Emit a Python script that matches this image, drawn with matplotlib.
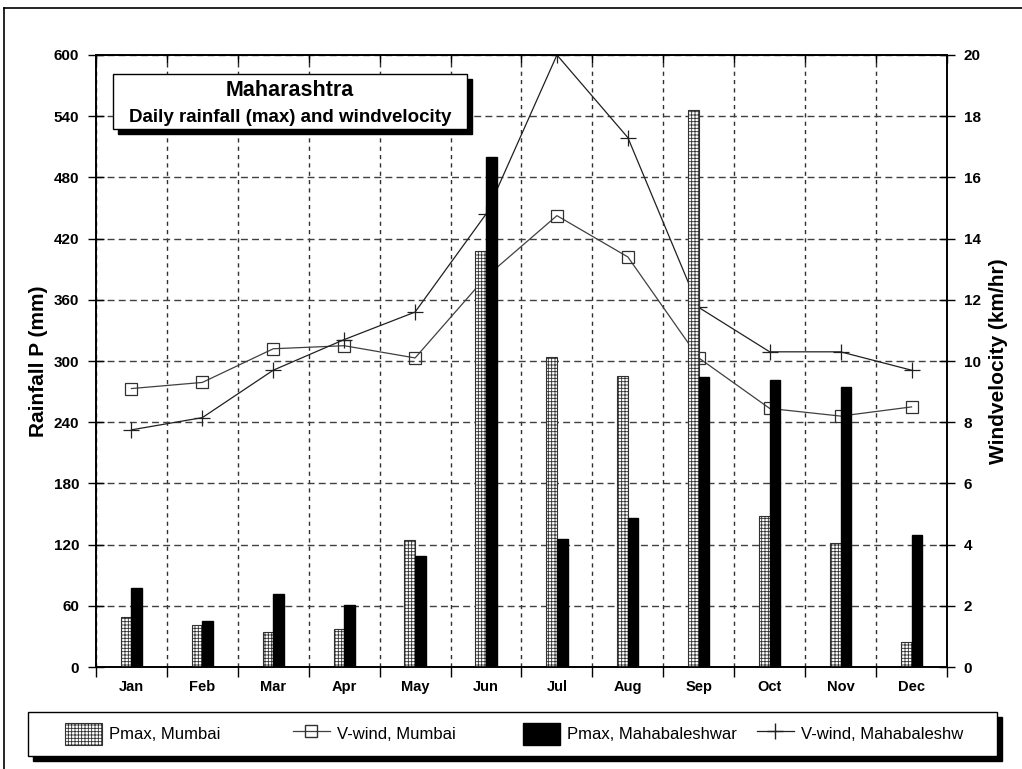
import matplotlib
matplotlib.use("Agg")
import matplotlib.pyplot as plt
import numpy as np
from matplotlib.patches import Rectangle, Patch
from matplotlib.lines import Line2D

plt.rcParams['font.family'] = ['Liberation Sans', 'DejaVu Sans']
plt.rcParams['hatch.linewidth'] = 0.6

# data
months = ['Jan', 'Feb', 'Mar', 'Apr', 'May', 'Jun', 'Jul', 'Aug', 'Sep', 'Oct', 'Nov', 'Dec']
rain_mumbai = [49, 41, 34, 37, 125, 408, 304, 285, 546, 148, 122, 25]
rain_mahab = [77, 45, 72, 61, 109, 500, 126, 146, 284, 281, 275, 129]
wind_mumbai = [9.1, 9.3, 10.4, 10.5, 10.1, 12.75, 14.75, 13.4, 10.1, 8.45, 8.2, 8.5]
wind_mahab = [7.75, 8.15, 9.7, 10.7, 11.6, 14.8, 20.0, 17.3, 11.75, 10.3, 10.3, 9.7]

x = np.arange(len(months))
w = 0.15

fig = plt.figure(figsize=(10.22, 7.69), dpi=100)
ax = fig.add_axes([0.0939, 0.1326, 0.8327, 0.7959])   # wind lines (drawn underneath)
axr = ax.twinx()                                       # rainfall bars on top

# wind on the right, rainfall on the left
ax.yaxis.tick_right()
ax.yaxis.set_label_position('right')
axr.yaxis.tick_left()
axr.yaxis.set_label_position('left')

ax.plot(x, wind_mumbai, color='#404040', lw=0.9, marker='s', ms=8,
        mfc='none', mec='#303030', mew=0.9)
ax.plot(x, wind_mahab, color='#202020', lw=0.9, marker='+', ms=12, mew=0.9)

axr.bar(x - w / 2, rain_mumbai, w, color='white', edgecolor='#303030',
        hatch='+++++', lw=0.8)
axr.bar(x + w / 2, rain_mahab, w, color='black', edgecolor='black')

ax.set_xlim(-0.5, 11.5)
ax.set_ylim(0, 20)
axr.set_ylim(0, 600)
ax.set_yticks(np.arange(0, 21, 2))
axr.set_yticks(np.arange(0, 601, 60))

ax.set_xticks(np.arange(-0.5, 12, 1))
ax.set_xticklabels([])
ax.set_xticks(x, minor=True)
ax.set_xticklabels(months, minor=True, fontsize=10.5, fontweight='bold')
ax.tick_params(axis='x', which='minor', length=0, pad=9)
ax.tick_params(axis='x', which='major', direction='out', length=7, width=1)
axr.xaxis.set_visible(True)
axr.tick_params(axis='x', which='both', bottom=False, labelbottom=False, labeltop=False)
axr.tick_params(axis='x', which='major', top=True, direction='in', length=6, width=1)
axr.tick_params(axis='x', which='minor', top=False)

ax.tick_params(axis='y', direction='inout', length=12, width=1, labelsize=11, pad=6)
axr.tick_params(axis='y', direction='inout', length=12, width=1, labelsize=11, pad=6)
for lab in ax.get_yticklabels() + axr.get_yticklabels():
    lab.set_fontweight('bold')

ax.grid(axis='y', color='#404040', ls=(0, (5, 3)), lw=1)
ax.grid(axis='x', which='major', color='#303030', ls=(0, (3, 3)), lw=1)

for a in (ax, axr):
    for s in a.spines.values():
        s.set_linewidth(1.2)
        s.set_color('black')

axr.set_ylabel('Rainfall P (mm)', fontsize=15, fontweight='bold', labelpad=4)
ax.set_ylabel('Windvelocity (km/hr)', fontsize=15, fontweight='bold', labelpad=6)

W, H = 1022, 769


def box(x0, y0, x1, y1, off=5):
    # box in pixel coordinates (y from top) with a solid drop shadow
    fig.add_artist(Rectangle(((x0 + off) / W, (H - y1 - off) / H), (x1 - x0) / W, (y1 - y0) / H,
                             transform=fig.transFigure, facecolor='black', edgecolor='black', zorder=5))
    fig.add_artist(Rectangle((x0 / W, (H - y1) / H), (x1 - x0) / W, (y1 - y0) / H,
                             transform=fig.transFigure, facecolor='white', edgecolor='black',
                             lw=1, zorder=5.5))


# title box
box(113, 74, 467, 129)
fig.text(290 / W, (H - 91) / H, 'Maharashtra', ha='center', va='center',
         fontsize=15.5, fontweight='bold', zorder=6)
fig.text(290 / W, (H - 118) / H, 'Daily rainfall (max) and windvelocity', ha='center',
         va='center', fontsize=13.5, fontweight='bold', zorder=6)

# legend box
box(28, 712, 997, 756)
handles = [
    (Patch(facecolor='white', edgecolor='#303030', hatch='+++++', lw=0.8), 'Pmax, Mumbai', 65),
    (Line2D([], [], color='#404040', lw=0.9, marker='s', ms=8, mfc='none', mec='#303030'),
     'V-wind, Mumbai', 293),
    (Patch(facecolor='black', edgecolor='black'), 'Pmax, Mahabaleshwar', 523),
    (Line2D([], [], color='#202020', lw=0.9, marker='+', ms=12), 'V-wind, Mahabaleshw', 757),
]
for h, lab, px in handles:
    leg = fig.legend([h], [lab], loc='center left', bbox_to_anchor=(px / W, (H - 734) / H),
                     frameon=False, borderpad=0, borderaxespad=0, handlelength=2.2,
                     handleheight=1.7, handletextpad=0.45, fontsize=12)
    leg.set_zorder(7)

# outer frame
fig.add_artist(Line2D([4 / W, 1], [(H - 8) / H] * 2, transform=fig.transFigure, color='black', lw=1.2))
fig.add_artist(Line2D([4 / W] * 2, [0, (H - 8) / H], transform=fig.transFigure, color='black', lw=1.2))

fig.savefig('out.png', dpi=100)
